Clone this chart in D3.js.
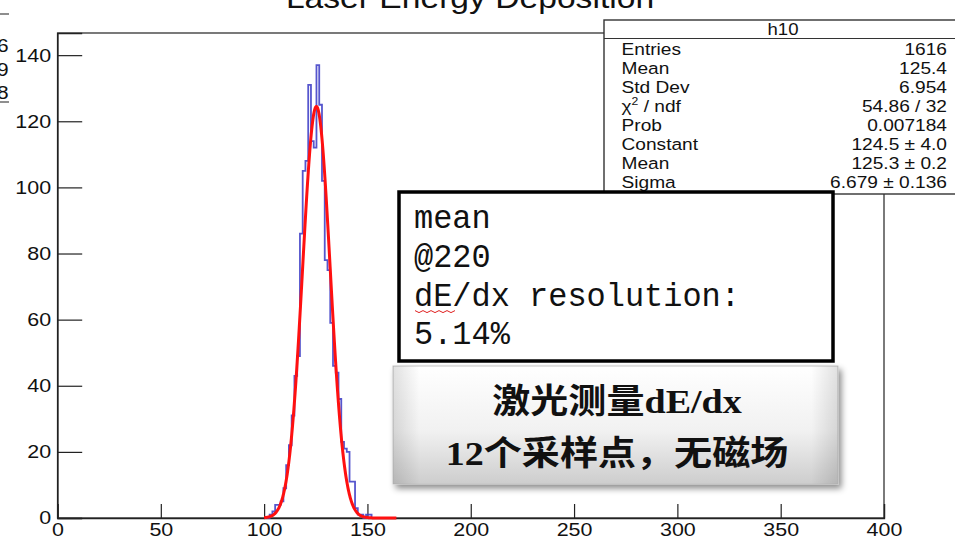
<!DOCTYPE html>
<html>
<head>
<meta charset="utf-8">
<script src="https://cdn.jsdelivr.net/npm/d3@7"></script>
<style>
  body { margin: 0; background: #fff; }
  svg { display: block; }
</style>
</head>
<body>
<svg id="chart" width="955" height="540"></svg>
<script>
// ---- histogram h10: 300 bins on [0, 400]; populated bins start at firstBin ----
const histLow = 0;
const histHigh = 400;
const histBins = 300;
const firstBin = 76;
const binCounts = [0, 1, 2, 4, 4, 5, 9, 16, 22, 31, 43, 49, 86, 105, 108, 131, 114, 112,
                   137, 125, 102, 78, 75, 59, 46, 44, 36, 23, 21, 20, 11, 11, 3, 1, 1, 0, 1, 1, 0];

// ---- gaussian fit parameters (as printed in the stats box) ----
const fitConstant = 124.5;
const fitMean = 125.3;
const fitSigma = 6.679;
const fitRange = [100, 164];

// ---- axes ----
const xMajorTicks = [0, 50, 100, 150, 200, 250, 300, 350, 400];
const xMinorTicks = d3.range(0, 401, 10);
const yMajorTicks = [0, 20, 40, 60, 80, 100, 120, 140];
const yMinorTicks = d3.range(0, 146, 5);
const yMax = 146.7;

// ---- texts ----
const titleText = "Laser Energy Deposition";
const statsName = "h10";
const statsLabels = ["Entries", "Mean", "Std Dev", "χ2 / ndf", "Prob", "Constant", "Mean", "Sigma"];
const statsValues = ["1616", "125.4", "6.954", "54.86 / 32", "0.007184", "124.5 ± 4.0", "125.3 ± 0.2", "6.679 ± 0.136"];
const noteLines = ["mean", "@220", "dE/dx resolution:", "5.14%"];
const captionLines = ["激光测量dE/dx", "12个采样点，无磁场"];
const sideDigits = ["6", "9", "8"];

const svg = d3.select("#chart");
const sx = 1.16; // text is drawn slightly wide

const x = d3.scaleLinear().domain([histLow, histHigh]).range([57.5, 884]);
const y = d3.scaleLinear().domain([0, yMax]).range([518, 33]);

const defs = svg.append("defs");
const grad = defs.append("linearGradient").attr("id", "capGrad")
  .attr("x1", 0).attr("y1", 0).attr("x2", 0).attr("y2", 1);
grad.append("stop").attr("offset", "0%").attr("stop-color", "#ffffff");
grad.append("stop").attr("offset", "55%").attr("stop-color", "#f1f1f1");
grad.append("stop").attr("offset", "100%").attr("stop-color", "#cdcdcd");
const gradH = defs.append("linearGradient").attr("id", "capSide")
  .attr("x1", 0).attr("y1", 0).attr("x2", 1).attr("y2", 0);
gradH.append("stop").attr("offset", "0%").attr("stop-color", "#000").attr("stop-opacity", 0.12);
gradH.append("stop").attr("offset", "6%").attr("stop-color", "#000").attr("stop-opacity", 0);
gradH.append("stop").attr("offset", "94%").attr("stop-color", "#000").attr("stop-opacity", 0);
gradH.append("stop").attr("offset", "100%").attr("stop-color", "#000").attr("stop-opacity", 0.12);
const shadow = defs.append("filter").attr("id", "capShadow")
  .attr("x", "-10%").attr("y", "-10%").attr("width", "125%").attr("height", "140%");
shadow.append("feDropShadow").attr("dx", 3).attr("dy", 4).attr("stdDeviation", 3)
  .attr("flood-color", "#000").attr("flood-opacity", 0.45);

// ---- title (top part runs off the page) ----
svg.append("text")
  .attr("transform", `translate(470,8) scale(${sx},1)`)
  .attr("text-anchor", "middle")
  .attr("font-family", "Liberation Sans, Arial, sans-serif")
  .attr("font-size", 29)
  .attr("fill", "#111")
  .text(titleText);

// ---- frame ----
svg.append("rect")
  .attr("x", x(histLow)).attr("y", y(yMax))
  .attr("width", x(histHigh) - x(histLow)).attr("height", y(0) - y(yMax))
  .attr("fill", "none").attr("stroke", "#222").attr("stroke-width", 1.2);

// ---- axes with inward ticks ----
const axisFont = "Liberation Sans, Arial, sans-serif";
const gx = svg.append("g").attr("transform", `translate(0,${y(0)})`);
gx.call(d3.axisBottom(x).tickValues(xMinorTicks).tickSize(-7).tickFormat(""));
gx.call(d3.axisBottom(x).tickValues(xMajorTicks).tickSize(-14).tickPadding(5).tickFormat(d3.format("d")));
gx.selectAll(".domain").attr("stroke", "#222").attr("stroke-width", 1.3);
gx.selectAll(".tick line").attr("stroke", "#222").attr("stroke-width", 1.2);
gx.selectAll(".tick text")
  .attr("font-family", axisFont).attr("font-size", 18.5).attr("fill", "#111")
  .attr("transform", `scale(${sx},1)`);

const gy = svg.append("g").attr("transform", `translate(${x(histLow)},0)`);
gy.call(d3.axisLeft(y).tickValues(yMinorTicks).tickSize(-12).tickFormat(""));
gy.call(d3.axisLeft(y).tickValues(yMajorTicks).tickSize(-24.7).tickPadding(5.5).tickFormat(d3.format("d")));
gy.selectAll(".domain").attr("stroke", "#222").attr("stroke-width", 1.3);
gy.selectAll(".tick line").attr("stroke", "#222").attr("stroke-width", 1.2);
gy.selectAll(".tick text")
  .attr("font-family", axisFont).attr("font-size", 18.5).attr("fill", "#111")
  .attr("transform", `scale(${sx},1)`);

// ---- histogram outline ----
const binWidth = (histHigh - histLow) / histBins;
const stepPts = [];
binCounts.forEach((c, i) => {
  const lo = histLow + (firstBin + i) * binWidth;
  const hi = lo + binWidth;
  if (i === 0) stepPts.push([lo, 0]);
  stepPts.push([lo, c]);
  stepPts.push([hi, c]);
  if (i === binCounts.length - 1) stepPts.push([hi, 0]);
});
svg.append("path")
  .datum(stepPts)
  .attr("d", d3.line().x(d => x(d[0])).y(d => y(d[1])))
  .attr("fill", "none")
  .attr("stroke", "#4444c8")
  .attr("stroke-width", 1.8)
  .attr("stroke-opacity", 0.9);

// ---- gaussian fit ----
const gauss = v => fitConstant * Math.exp(-0.5 * Math.pow((v - fitMean) / fitSigma, 2));
const fitPts = d3.range(fitRange[0], fitRange[1] + 0.001, 0.2).map(v => [v, gauss(v)]);
svg.append("path")
  .datum(fitPts)
  .attr("d", d3.line().x(d => x(d[0])).y(d => y(d[1])).curve(d3.curveMonotoneX))
  .attr("fill", "none")
  .attr("stroke", "#ff1010")
  .attr("stroke-width", 3);

// ---- stats box ----
const sb = svg.append("g");
sb.append("rect").attr("x", 604).attr("y", 20).attr("width", 380).attr("height", 174)
  .attr("fill", "#fff").attr("stroke", "#333").attr("stroke-width", 1.4);
sb.append("line").attr("x1", 604).attr("x2", 955).attr("y1", 38.5).attr("y2", 38.5)
  .attr("stroke", "#333").attr("stroke-width", 1.2);
sb.append("text")
  .attr("transform", `translate(783,35) scale(${sx},1)`)
  .attr("text-anchor", "middle")
  .attr("font-family", axisFont).attr("font-size", 16)
  .attr("fill", "#111").text(statsName);
statsLabels.forEach((lab, i) => {
  const yy = 54.5 + i * 19.1;
  const t = sb.append("text")
    .attr("transform", `translate(621.5,${yy}) scale(${sx},1)`)
    .attr("font-family", axisFont).attr("font-size", 16.5).attr("fill", "#111");
  if (lab.startsWith("χ2")) {
    t.append("tspan").text("χ");
    t.append("tspan").attr("font-size", 10.5).attr("dy", -7).text("2");
    t.append("tspan").attr("dy", 7).text(lab.slice(2));
  } else {
    t.text(lab);
  }
  sb.append("text")
    .attr("transform", `translate(947,${yy}) scale(${sx},1)`)
    .attr("text-anchor", "end")
    .attr("font-family", axisFont).attr("font-size", 16.5).attr("fill", "#111")
    .text(statsValues[i]);
});

// ---- digits of a neighbouring box at the left edge ----
const side = svg.append("g");
side.append("line").attr("x1", 0).attr("x2", 9).attr("y1", 14).attr("y2", 14)
  .attr("stroke", "#444").attr("stroke-width", 1.2);
sideDigits.forEach((d, i) => {
  side.append("text")
    .attr("transform", `translate(8.5,${52 + i * 23.5}) scale(${sx},1)`)
    .attr("text-anchor", "end")
    .attr("font-family", axisFont).attr("font-size", 18).attr("fill", "#111")
    .text(d);
});
side.append("line").attr("x1", 0).attr("x2", 9).attr("y1", 102).attr("y2", 102)
  .attr("stroke", "#444").attr("stroke-width", 1.2);

// ---- annotation box ----
const nb = svg.append("g");
nb.append("rect").attr("x", 399).attr("y", 192).attr("width", 434).attr("height", 169)
  .attr("fill", "#fff").attr("stroke", "#000").attr("stroke-width", 3.5);
noteLines.forEach((ln, i) => {
  nb.append("text")
    .attr("transform", `translate(414,${228 + i * 38.8}) scale(0.94,1)`)
    .attr("font-family", "Liberation Mono, DejaVu Sans Mono, monospace")
    .attr("font-size", 34).attr("fill", "#111")
    .text(ln);
});
// spell-check squiggle under "dE"
const sq = d3.range(0, 11).map(k => [415 + k * 4, 311 + (k % 2 ? 1.6 : -0.4)]);
nb.append("path").attr("d", d3.line()(sq)).attr("fill", "none")
  .attr("stroke", "#e02020").attr("stroke-width", 1);

// ---- caption box ----
const cb = svg.append("g");
cb.append("rect").attr("x", 393).attr("y", 366).attr("width", 445).attr("height", 118)
  .attr("fill", "url(#capGrad)").attr("stroke", "#c4c4c4").attr("stroke-width", 1)
  .attr("filter", "url(#capShadow)");
cb.append("rect").attr("x", 393).attr("y", 366).attr("width", 445).attr("height", 118)
  .attr("fill", "url(#capSide)");
captionLines.forEach((ln, i) => {
  cb.append("text")
    .attr("transform", `translate(617,${413 + i * 52}) scale(1.12,1)`)
    .attr("text-anchor", "middle")
    .attr("font-family", "Liberation Serif, 'Noto Sans CJK SC', serif")
    .attr("font-weight", "bold")
    .attr("font-size", 34).attr("fill", "#111")
    .text(ln);
});
</script>
</body>
</html>
